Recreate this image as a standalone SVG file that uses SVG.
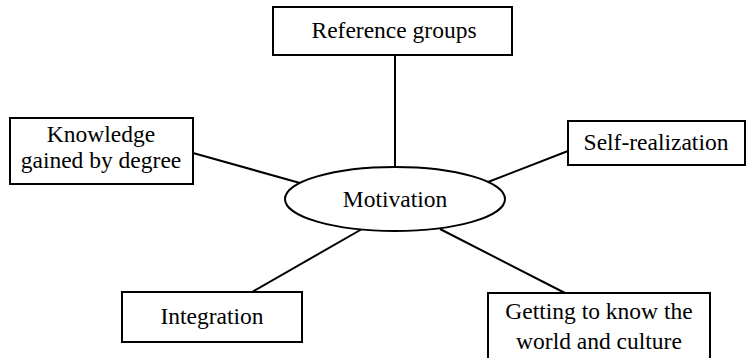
<svg xmlns="http://www.w3.org/2000/svg" width="748" height="358" viewBox="0 0 748 358">
<style>
.box{fill:#fff;stroke:#000;stroke-width:2}
.lbl{font-family:"Liberation Serif","Times New Roman","DejaVu Serif",serif;font-size:23.5px;fill:#000;text-anchor:middle}
.con{stroke:#000;stroke-width:2;fill:none}
</style>
<rect width="748" height="358" fill="#fff"/>
<g id="connectors">
<line class="con" x1="395" y1="56" x2="395" y2="167"/>
<line class="con" x1="193" y1="153" x2="300" y2="183"/>
<line class="con" x1="568" y1="151" x2="488" y2="182"/>
<line class="con" x1="252" y1="292" x2="362" y2="229"/>
<line class="con" x1="440" y1="229" x2="565" y2="293"/>
</g>
<g id="motivation">
<ellipse class="box" cx="395" cy="199" rx="110" ry="32"/>
<text class="lbl" x="395" y="207">Motivation</text>
</g>
<g id="reference-groups">
<rect class="box" x="273" y="7" width="239" height="48"/>
<text class="lbl" x="394" y="38">Reference groups</text>
</g>
<g id="knowledge">
<rect class="box" x="10" y="118" width="183" height="66"/>
<text class="lbl" x="101" y="142">Knowledge</text>
<text class="lbl" x="101" y="168">gained by degree</text>
</g>
<g id="self-realization">
<rect class="box" x="568" y="121" width="177" height="44"/>
<text class="lbl" x="656" y="150">Self-realization</text>
</g>
<g id="integration">
<rect class="box" x="122" y="292" width="180" height="50"/>
<text class="lbl" x="212" y="324">Integration</text>
</g>
<g id="getting-to-know">
<rect class="box" x="488" y="293" width="222" height="66"/>
<text class="lbl" x="599" y="319">Getting to know the</text>
<text class="lbl" x="599" y="349">world and culture</text>
</g>
</svg>
